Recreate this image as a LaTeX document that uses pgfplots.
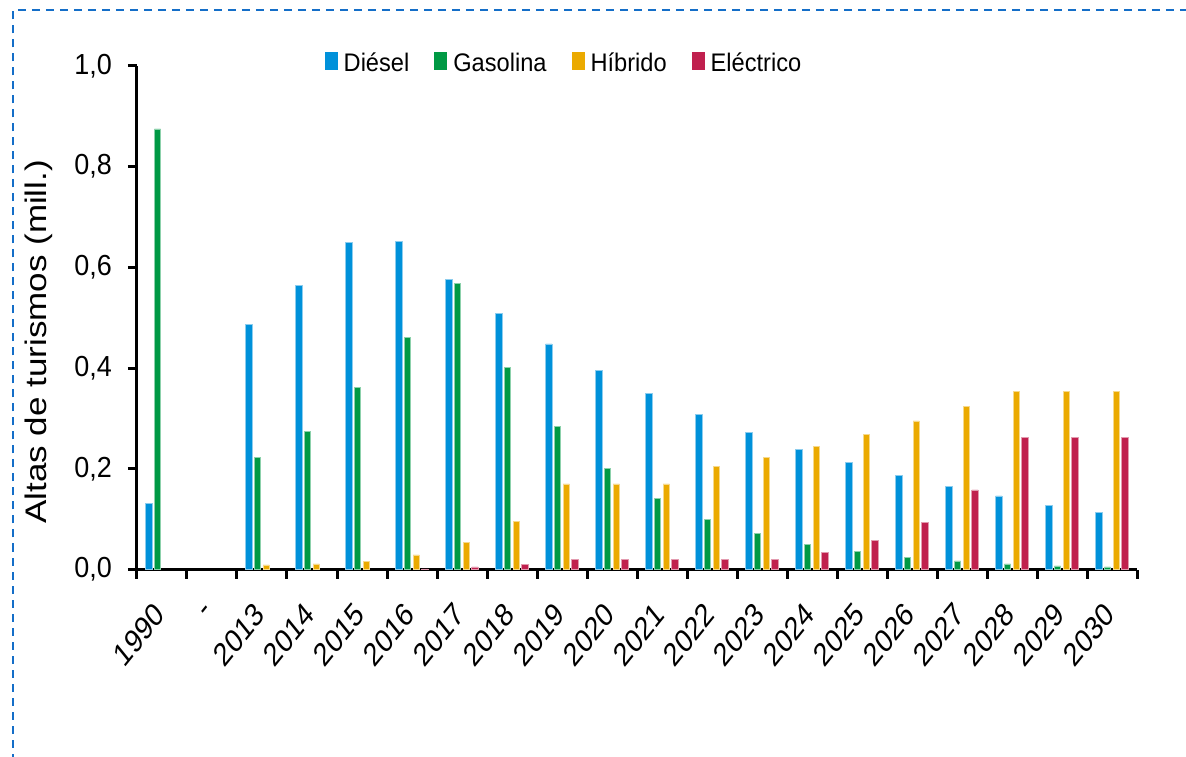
\documentclass[border=0pt]{standalone}
\usepackage{pgfplots}
\pgfplotsset{compat=1.18}
\usepackage{fontspec}
\setmainfont{Liberation Sans}[FakeStretch=0.93]
\newfontfamily\labelfont{Liberation Sans}

\definecolor{cdiesel}{RGB}{0,145,218}
\definecolor{cgasolina}{RGB}{0,153,68}
\definecolor{chibrido}{RGB}{235,170,0}
\definecolor{celectrico}{RGB}{192,32,78}
\definecolor{frameblue}{RGB}{20,110,200}

\begin{document}
\begin{tikzpicture}
\useasboundingbox (-68.5bp,-93.75bp) rectangle (524.5bp,284.75bp);
% dashed frame
\draw[frameblue, line width=1bp, dash pattern=on 4bp off 3bp]
  (-61.85bp,-110bp) -- (-61.85bp,279.75bp) -- (540bp,279.75bp);
\begin{axis}[
  scale only axis,
  width=500bp, height=251.75bp,
  xmin=-0.5, xmax=19.5,
  ymin=0, ymax=1,
  axis x line*=bottom,
  axis y line*=left,
  axis line style={line width=1.5bp},
  every tick/.style={black, line width=1.5bp},
  tick align=outside,
  major tick length=4.5bp,
  ytick={0,0.2,...,1.0},
  yticklabel style={
    /pgf/number format/.cd, fixed, fixed zerofill, precision=1, use comma, assume math mode=true,
    /tikz/.cd, font=\fontsize{14.5bp}{17bp}\selectfont, xshift=-4.5bp},
  xtick={-0.5,0.5,...,19.5},
  xticklabel={\relax},
  extra x ticks={0,1,...,19},
  extra x tick labels={1990,-,2013,2014,2015,2016,2017,2018,2019,2020,2021,2022,2023,2024,2025,2026,2027,2028,2029,2030},
  extra x tick style={
    tick style={draw=none},
    tick label style={font=\labelfont\fontsize{16.3bp}{19bp}\selectfont, inner sep=0pt,
      xshift=-1bp, yshift=-15bp, xscale=0.81, rotate=45, anchor=east}},
  ylabel={Altas de turismos (mill.)},
  ylabel style={font=\labelfont\fontsize{17.5bp}{20bp}\selectfont,
    at={(axis description cs:-0.098,0.452)}, anchor=center, yscale=0.85},
  ybar,
  bar width=0.125,
  legend columns=4,
  legend style={draw=none, fill=none, inner sep=0pt,
    at={(axis description cs:0.426,1.006)}, anchor=center,
    font=\fontsize{12.7bp}{15bp}\selectfont,
    nodes={inner sep=0pt},
    /tikz/every odd column/.append style={column sep=3bp},
    /tikz/every even column/.append style={column sep=12.5bp}},
  legend image code/.code={\fill[draw=none] (0bp,-3bp) rectangle (6.5bp,6bp);},
]
\addplot[fill=cdiesel, draw=cdiesel!45!white, line width=0.4bp, bar shift=-0.263]
  coordinates {(0,0.132) (2,0.486) (3,0.565) (4,0.650) (5,0.652) (6,0.576) (7,0.508) (8,0.448) (9,0.396)
               (10,0.349) (11,0.308) (12,0.273) (13,0.239) (14,0.212) (15,0.187) (16,0.165) (17,0.146) (18,0.128) (19,0.114)};
\addplot[fill=cgasolina, draw=cgasolina!45!white, line width=0.4bp, bar shift=-0.089]
  coordinates {(0,0.875) (2,0.223) (3,0.275) (4,0.362) (5,0.460) (6,0.568) (7,0.402) (8,0.284) (9,0.200)
               (10,0.141) (11,0.100) (12,0.071) (13,0.049) (14,0.035) (15,0.024) (16,0.017) (17,0.011) (18,0.007) (19,0.005)};
\addplot[fill=chibrido, draw=chibrido!45!white, line width=0.4bp, bar shift=0.085]
  coordinates {(2,0.009) (3,0.011) (4,0.016) (5,0.029) (6,0.053) (7,0.096) (8,0.170) (9,0.170)
               (10,0.170) (11,0.205) (12,0.223) (13,0.245) (14,0.269) (15,0.295) (16,0.323) (17,0.354) (18,0.354) (19,0.354)};
\addplot[fill=celectrico, draw=celectrico!45!white, line width=0.4bp, bar shift=0.259]
  coordinates {(5,0.001) (6,0.005) (7,0.010) (8,0.020) (9,0.020)
               (10,0.020) (11,0.020) (12,0.020) (13,0.033) (14,0.057) (15,0.094) (16,0.158) (17,0.262) (18,0.262) (19,0.262)};
\legend{Diésel,Gasolina,Híbrido,Eléctrico}
\end{axis}
\end{tikzpicture}
\end{document}
